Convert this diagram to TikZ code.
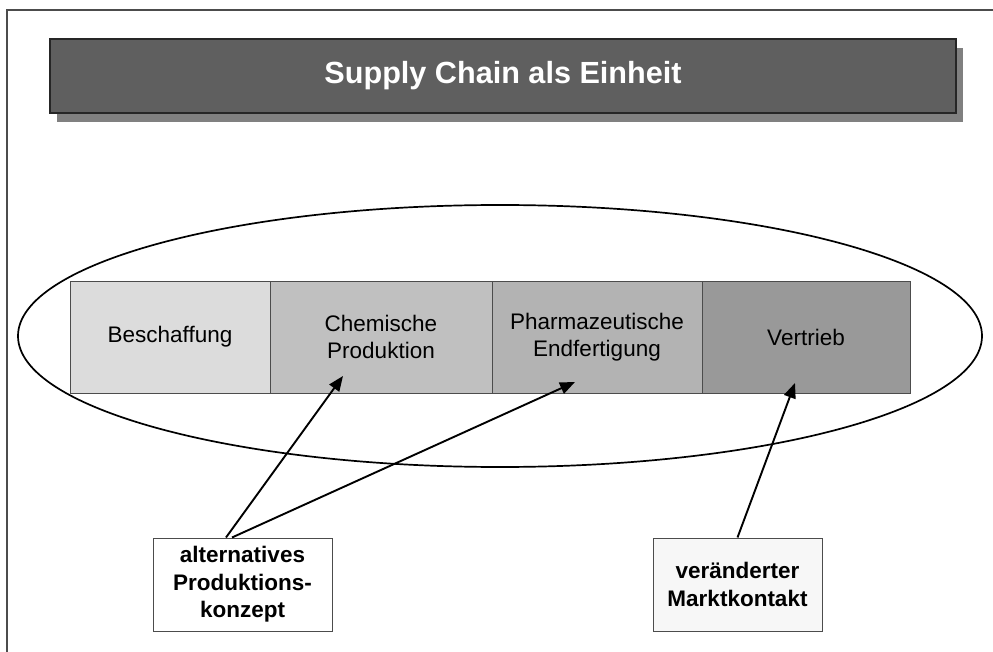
\documentclass[tikz,border=0pt]{standalone}
\usepackage{fontspec}
\setmainfont{Liberation Sans}
\usetikzlibrary{positioning,shadows,arrows.meta}

\definecolor{titelgrau}{HTML}{5F5F5F}
\definecolor{schatten}{HTML}{808080}
\definecolor{stufeA}{HTML}{DCDCDC}
\definecolor{stufeB}{HTML}{C0C0C0}
\definecolor{stufeC}{HTML}{B3B3B3}
\definecolor{stufeD}{HTML}{999999}
\definecolor{hinweisgrau}{HTML}{F7F7F7}

\tikzset{
  stufe/.style={draw=black!70, line width=0.8pt, minimum height=112pt, inner sep=0pt,
    outer sep=0pt, align=center, font=\fontsize{22.5}{26.7}\selectfont},
  hinweis/.style={draw=black!70, line width=1pt, minimum height=93pt, inner sep=2pt,
    align=center, font=\bfseries\fontsize{22.5}{27.5}\selectfont},
  pfeil/.style={line width=1.9pt, -{Triangle[length=15pt,width=12pt]}},
}

\begin{document}
\begin{tikzpicture}[x=1pt,y=-1pt]
  \useasboundingbox (0,0) rectangle (993,652);

  % Rahmen (oben und links)
  \draw[line width=2pt, black!70] (7,652) -- (7,10) -- (993,10);

  % Titelbalken mit Schatten
  \node[draw=black!85, line width=1.2pt, fill=titelgrau, minimum width=906pt,
    minimum height=74pt, text=white, font=\bfseries\fontsize{30.6}{36}\selectfont,
    drop shadow={shadow xshift=7pt, shadow yshift=-9pt, fill=schatten, opacity=1}]
    (titel) at (503,76) {Supply Chain als Einheit};

  % Ellipse um die Kette
  \draw[line width=1.7pt] (500,336) ellipse [x radius=482, y radius=131];

  % Stufen der Supply Chain
  \node[stufe, fill=stufeA, minimum width=200pt] (beschaffung) at (170,337) {Beschaffung};
  \node[stufe, fill=stufeB, minimum width=222pt, right=0pt of beschaffung] (chemie) {Chemische\\Produktion};
  \node[stufe, fill=stufeC, minimum width=210pt, right=0pt of chemie] (pharma) {Pharmazeutische\\Endfertigung};
  \node[stufe, fill=stufeD, minimum width=208pt, right=0pt of pharma] (vertrieb) {Vertrieb};

  % Hinweiskaesten
  \node[hinweis, fill=white, minimum width=179pt] (konzept) at (242.5,584.5) {alternatives\\Produktions-\\konzept};
  \node[hinweis, fill=hinweisgrau, minimum width=169pt] (markt) at (737.5,584.5) {veränderter\\Marktkontakt};

  % Pfeile
  \draw[pfeil] ([xshift=-16.5pt]konzept.north) -- ([xshift=-38pt,yshift=17pt]chemie.south);
  \draw[pfeil] ([xshift=-10.5pt]konzept.north) -- ([xshift=-22pt,yshift=11pt]pharma.south);
  \draw[pfeil] (markt.north) -- ([xshift=-11pt,yshift=10pt]vertrieb.south);
\end{tikzpicture}
\end{document}
